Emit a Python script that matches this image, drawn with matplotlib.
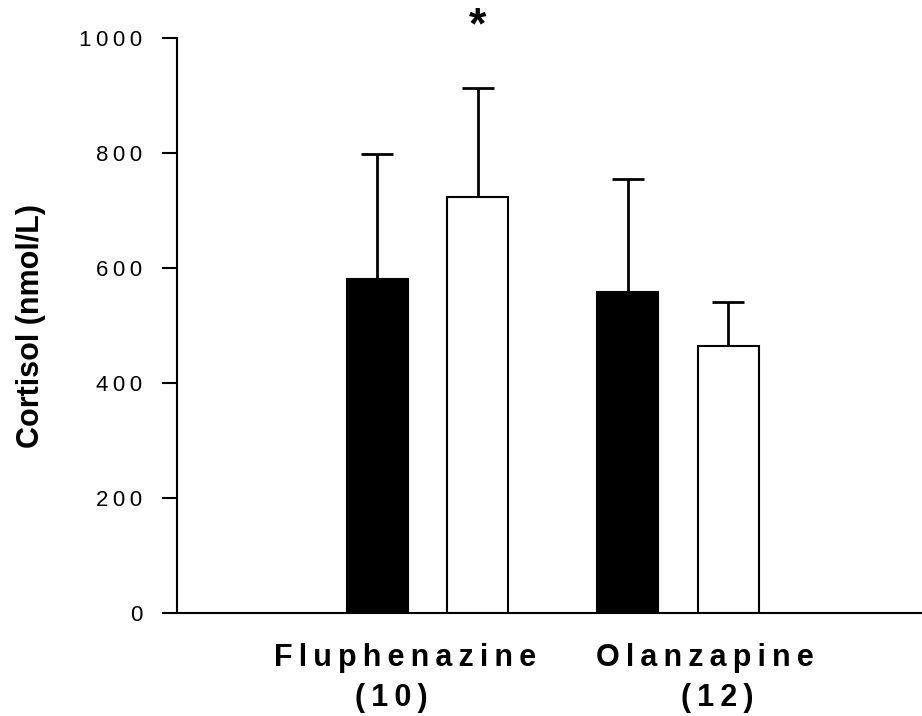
import numpy as np
import matplotlib
matplotlib.use('Agg')
import matplotlib.pyplot as plt

plt.rcParams['font.family'] = ['Liberation Sans', 'DejaVu Sans']

# data
groups = ['Fluphenazine', 'Olanzapine']
group_n = ['(10)', '(12)']
black_vals = np.array([580, 559])
black_err = np.array([218, 195])
white_vals = np.array([723, 464])
white_err = np.array([190, 77])
yticks = [0, 200, 400, 600, 800, 1000]

SP = '\u2009'

def spaced(s):
    return SP.join(list(s))

fig = plt.figure(figsize=(9.22, 7.16), dpi=100)
ax = fig.add_axes([0.192, 0.1439, 0.807, 0.8031])

x = np.arange(1, len(groups) + 1)
off = 0.201
w = 0.243

for xs, vals, err, col in [(x - off, black_vals, black_err, 'black'),
                           (x + off, white_vals, white_err, 'white')]:
    # upper error bars only (no cap at the bar top)
    ax.errorbar(xs, vals, yerr=[np.zeros(len(vals)), err], fmt='none',
                ecolor='black', elinewidth=2, capsize=0, zorder=1)
    ax.plot(xs, vals + err, ls='none', marker='_', markersize=23, mew=2, color='black', zorder=1)
    ax.bar(xs, vals, w, color=col, edgecolor='black', linewidth=1.5, zorder=2)

# significance star
ax.text(x[0] + off, 1000, '*', ha='center', va='baseline', fontsize=32, fontweight='bold', clip_on=False)

ax.set_xlim(0, 2.97)
ax.set_ylim(0, 1000)
ax.set_yticks(yticks)
ax.set_yticklabels([spaced(str(t)) for t in yticks], fontsize=16)
ax.tick_params(axis='y', length=11, width=1.5, pad=14)
ax.set_xticks([])

for s in ['top', 'right']:
    ax.spines[s].set_visible(False)
ax.spines['left'].set_linewidth(1.5)
ax.spines['bottom'].set_linewidth(1.5)

fig.text(31 / 922, 1 - 326 / 716, 'Cortisol (nmol/L)', rotation=90, ha='center', va='center',
         fontsize=22, fontweight='bold')

# group labels (offsets as in original)
name_dx = [-0.088, 0.108]
n_dx = [-0.145, 0.155]
for i in range(len(groups)):
    ax.text(x[i] + name_dx[i], -53, spaced(groups[i]), ha='center', va='top',
            fontsize=22, fontweight='bold', clip_on=False)
    ax.text(x[i] + n_dx[i], -121, spaced(group_n[i]), ha='center', va='top',
            fontsize=22, fontweight='bold', clip_on=False)

fig.savefig('out.png', dpi=100)
